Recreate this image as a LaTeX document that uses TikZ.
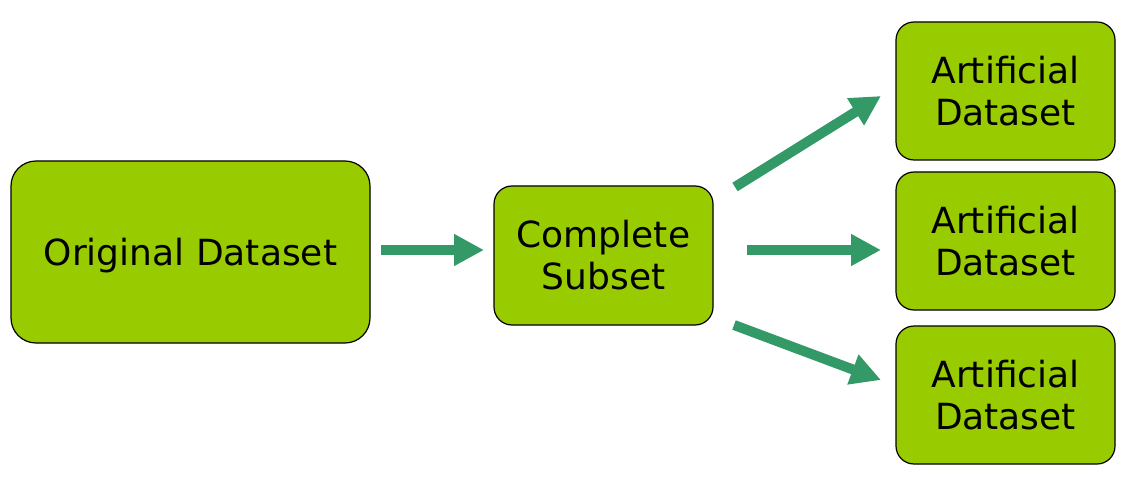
\documentclass[tikz,border=0pt]{standalone}
\usepackage{fontspec}
\setmainfont{DejaVu Sans}
\usetikzlibrary{arrows.meta,calc}
\definecolor{boxgreen}{HTML}{99CC00}
\definecolor{arrgreen}{HTML}{339966}
\tikzset{
  databox/.style={draw=black, line width=1.2pt, fill=boxgreen, rounded corners=#1,
    inner sep=0pt, align=center, font=\fontsize{36}{42}\selectfont},
  databox/.default=18pt,
  fatarrow/.style={draw=arrgreen, line width=10pt,
    -{Triangle[width=30pt,length=30pt,fill=arrgreen]}}
}
\begin{document}
\begin{tikzpicture}[x=1pt,y=-1pt]
\useasboundingbox (0,0) rectangle (1134,494);
\node[databox=25pt, minimum width=359pt, minimum height=182pt, text depth=0pt] (orig) at (190.5,252) {Original Dataset};
\node[databox, minimum width=219pt, minimum height=139pt] (comp) at (603.5,255.5) {Complete\\Subset};
\node[databox, minimum width=219pt, minimum height=138pt] (art1) at (1005.5,91) {Artificial\\Dataset};
\node[databox, minimum width=219pt, minimum height=138pt] (art2) at (1005.5,241) {Artificial\\Dataset};
\node[databox, minimum width=219pt, minimum height=138pt] (art3) at (1005.5,395) {Artificial\\Dataset};
\coordinate (a1s) at (381,250);
\coordinate (a1e) at (484,250);
\coordinate (a2s) at (747,250);
\coordinate (a2e) at (881,250);
\coordinate (a3s) at (735,187);
\coordinate (a3e) at (881,96);
\coordinate (a4s) at (734,325);
\coordinate (a4e) at (881,380);
\draw[fatarrow] (a1s) -- (a1e);
\draw[fatarrow] (a2s) -- (a2e);
\draw[fatarrow] (a3s) -- (a3e);
\draw[fatarrow] (a4s) -- (a4e);
\end{tikzpicture}
\end{document}
